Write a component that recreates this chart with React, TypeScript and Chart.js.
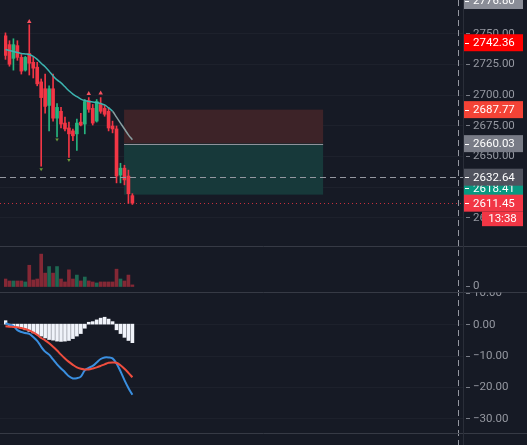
import React, { useEffect, useRef } from "react";
import { Chart, registerables } from "chart.js";

Chart.register(...registerables);

// ---------- DATA ----------
const opens = [2748, 2740.8, 2729.6, 2740, 2730.4, 2720, 2733.6, 2726.4, 2722.4, 2710.4, 2704.8, 2691.2, 2704.8, 2680.8, 2686.4, 2676.8, 2672.8, 2670.4, 2668, 2677.6, 2676, 2695.2, 2688.8, 2678.4, 2692, 2688.8, 2686.4, 2674.4, 2672, 2634.4, 2640, 2633.6, 2617.6];
const highs = [2750.4, 2744, 2745.6, 2744, 2732.8, 2731.2, 2757, 2730.4, 2726.4, 2712.8, 2716.8, 2707.2, 2716.8, 2692.8, 2689.6, 2681.6, 2677.6, 2672, 2680, 2684.8, 2696, 2697.6, 2692, 2696, 2697.6, 2691.2, 2689.6, 2678.4, 2674.4, 2644, 2642.4, 2638.4, 2619.2];
const lows = [2728.8, 2723.2, 2720, 2728, 2716.8, 2719.2, 2716, 2713.6, 2707.2, 2641.6, 2684.8, 2670.4, 2678.4, 2665.6, 2672.8, 2670.4, 2648.8, 2662.4, 2654.4, 2674.4, 2668, 2685.6, 2675.2, 2677.6, 2684.8, 2682.4, 2670.4, 2668.8, 2628, 2628, 2626.4, 2611.2, 2610.4];
const closes = [2732, 2724.8, 2740.8, 2730.4, 2719.2, 2730.4, 2725.6, 2721.6, 2708.8, 2697.6, 2690.4, 2704.8, 2680.8, 2689.6, 2676, 2672, 2668, 2666.4, 2676.8, 2675.2, 2694.4, 2688, 2676.8, 2694.4, 2686.4, 2684, 2672.8, 2672, 2633.6, 2640, 2630.4, 2619.2, 2611.45];
const maValues = [2736.8, 2736, 2735.2, 2734.4, 2733.6, 2733.2, 2732.8, 2731.2, 2728.8, 2725.6, 2722.8, 2719.2, 2715.2, 2712, 2709.6, 2706.4, 2703.2, 2700.4, 2698.4, 2696.4, 2695.2, 2694.4, 2694, 2693.6, 2692.8, 2691.6, 2689.2, 2686.4, 2681.6, 2676.8, 2672, 2667.2, 2663.2];
const volumes = [23, 17, 17, 17, 17, 14, 65, 20, 23, 99, 41, 61, 41, 61, 23, 14, 51, 23, 35, 17, 29, 17, 14, 11, 14, 14, 14, 14, 53, 23, 17, 35, 5];
const volumeUp = [false, false, true, false, false, true, false, false, false, false, false, true, false, true, false, false, false, false, true, false, true, false, false, true, false, false, false, false, false, true, false, false, false];
const macdLine = [0.3, -0.15, -0.6, -1.9, -2.5, -2.8, -3.1, -4.1, -5.3, -7.2, -8.75, -9.7, -11.25, -12.8, -14.1, -15.3, -16.6, -17.3, -17.2, -16.7, -14.7, -13.9, -13.3, -12.2, -11.1, -10.6, -10.6, -10.9, -12.5, -15, -17.8, -20.3, -22.5];
const signalLine = [-0.7, -0.8, -0.9, -1.0, -1.25, -1.55, -2.0, -2.65, -3.4, -4.4, -5.15, -6.1, -7.2, -8.4, -9.7, -10.9, -12.0, -12.95, -13.75, -14.2, -14.4, -14.4, -14.1, -13.75, -13.3, -12.8, -12.3, -12.2, -12.3, -13.1, -14.2, -15.5, -16.9];
const histogram = [1.1, -0.4, -0.5, -0.8, -1.25, -1.8, -2.3, -2.8, -3.3, -3.8, -4.4, -4.9, -5.1, -5.4, -5.5, -5.4, -5.2, -4.6, -3.8, -3.0, -1.3, 0.6, 0.8, 1.35, 1.9, 2.2, 1.6, 0.8, -1.8, -3.0, -4.2, -5.2, -5.9];
const highMarkIdx = [6, 21, 24];
const highMarkPrices = [2759.5, 2700.8, 2701.2];
const lowMarkIdx = [9, 13, 16];
const lowMarkPrices = [2639.2, 2663.4, 2646.6];

const priceTicks = [2750, 2725, 2700, 2675, 2650, 2625, 2600];
const macdTicks = [10, 0, -10, -20, -30];
const volumeTicks = [0];

const topCutPrice = 2776.8;
const highLabelPrice = 2742.36;
const stopPrice = 2687.77;
const entryPrice = 2660.03;
const crossPrice = 2632.64;
const targetPrice = 2618.41;
const lastPrice = 2611.45;
const countdownText = "13:38";
const positionStart = 29.9;
const positionEnd = 80.1;
const crossIndex = 114.1;

// ---------- LAYOUT / STYLE ----------
const W = 527, H = 445;
const AXIS_X = 463;
const PANE1_BOTTOM = 246.5;
const PANE2_BOTTOM = 292.5;
const PANE3_BOTTOM = 433.5;
const BG = "#161a25";
const UP = "#26b57f";
const DOWN = "#f23645";
const FONT = "11.5px Roboto, 'Liberation Sans', sans-serif";

const idx = opens.map((_, i) => i);

function hline(ctx: CanvasRenderingContext2D, x1: number, x2: number, y: number) {
  ctx.beginPath();
  ctx.moveTo(x1, y);
  ctx.lineTo(x2, y);
  ctx.stroke();
}

function fmt(v: number) {
  const s = Math.abs(v).toFixed(2);
  return v < 0 ? "\u2212" + s : s;
}

function labelBox(ctx: CanvasRenderingContext2D, cy: number, color: string, text: string) {
  ctx.fillStyle = color;
  ctx.fillRect(AXIS_X + 1, cy - 8.5, 59, 17);
  ctx.strokeStyle = "#ffffff";
  ctx.lineWidth = 1;
  hline(ctx, AXIS_X + 2, AXIS_X + 6, Math.round(cy) + 0.5);
  ctx.fillStyle = "#ffffff";
  ctx.font = FONT;
  ctx.textAlign = "left";
  ctx.textBaseline = "middle";
  ctx.fillText(text, 473, cy + 0.5);
}

const overlayPlugin = {
  id: "tvOverlay",
  beforeDraw(chart: any) {
    const { ctx } = chart;
    const ys = chart.scales.y;
    const ym = chart.scales.ym;
    ctx.save();
    ctx.fillStyle = BG;
    ctx.fillRect(0, 0, W, H);
    ctx.strokeStyle = "#1d212c";
    ctx.lineWidth = 1;
    priceTicks.forEach((t) => {
      const py = Math.round(ys.getPixelForValue(t)) + 0.5;
      if (py < PANE1_BOTTOM - 2) hline(ctx, 0, AXIS_X, py);
    });
    macdTicks.forEach((t) => {
      const py = Math.round(ym.getPixelForValue(t)) + 0.5;
      if (py > PANE2_BOTTOM + 2 && py < PANE3_BOTTOM - 2) hline(ctx, 0, AXIS_X, py);
    });
    ctx.restore();
  },
  beforeDatasetsDraw(chart: any) {
    const { ctx } = chart;
    const xs = chart.scales.x;
    const ys = chart.scales.y;
    const x1 = xs.getPixelForValue(positionStart);
    const x2 = xs.getPixelForValue(positionEnd);
    const yS = ys.getPixelForValue(stopPrice);
    const yE = ys.getPixelForValue(entryPrice);
    const yT = ys.getPixelForValue(targetPrice);
    ctx.save();
    ctx.fillStyle = "#3d2328";
    ctx.fillRect(x1, yS, x2 - x1, yE - yS);
    ctx.fillStyle = "#17393a";
    ctx.fillRect(x1, yE, x2 - x1, yT - yE);
    ctx.strokeStyle = "#8f929b";
    ctx.lineWidth = 1;
    hline(ctx, x1, x2, Math.round(yE) + 0.5);
    ctx.restore();
  },
  afterDatasetsDraw(chart: any) {
    const { ctx } = chart;
    const xs = chart.scales.x;
    const ys = chart.scales.y;
    const ym = chart.scales.ym;
    const yv = chart.scales.yv;
    ctx.save();

    // last price dotted line
    ctx.strokeStyle = "rgba(242,54,69,0.8)";
    ctx.lineWidth = 1;
    ctx.setLineDash([1, 3]);
    hline(ctx, 0, AXIS_X, Math.round(ys.getPixelForValue(lastPrice)) + 0.5);

    // crosshair
    ctx.strokeStyle = "#9598a1";
    ctx.setLineDash([6, 4]);
    hline(ctx, 0, AXIS_X, Math.round(ys.getPixelForValue(crossPrice)) + 0.5);
    const cx = Math.round(xs.getPixelForValue(crossIndex)) + 0.5;
    ctx.beginPath();
    ctx.moveTo(cx, 0);
    ctx.lineTo(cx, H);
    ctx.stroke();
    ctx.setLineDash([]);

    // separators
    ctx.strokeStyle = "#363a45";
    hline(ctx, 0, W, PANE1_BOTTOM);
    hline(ctx, 0, W, PANE2_BOTTOM);
    hline(ctx, 0, W, PANE3_BOTTOM);
    ctx.strokeStyle = "#2a2e39";
    ctx.beginPath();
    ctx.moveTo(AXIS_X + 0.5, 0);
    ctx.lineTo(AXIS_X + 0.5, H);
    ctx.stroke();

    // axis ticks
    ctx.font = FONT;
    ctx.textAlign = "left";
    ctx.textBaseline = "middle";
    const tick = (py: number, text: string) => {
      ctx.strokeStyle = "#7a7d87";
      hline(ctx, AXIS_X + 3, AXIS_X + 7, Math.round(py) + 0.5);
      ctx.fillStyle = "#9598a1";
      ctx.fillText(text, 473, py + 0.5);
    };
    ctx.save();
    ctx.beginPath();
    ctx.rect(AXIS_X + 1, 0, W - AXIS_X, PANE1_BOTTOM);
    ctx.clip();
    priceTicks.forEach((t) => tick(ys.getPixelForValue(t), t.toFixed(2)));
    ctx.restore();
    ctx.save();
    ctx.beginPath();
    ctx.rect(AXIS_X + 1, PANE2_BOTTOM, W - AXIS_X, PANE3_BOTTOM - PANE2_BOTTOM);
    ctx.clip();
    macdTicks.forEach((t) => tick(ym.getPixelForValue(t), fmt(t)));
    ctx.restore();
    volumeTicks.forEach((t) => tick(yv.getPixelForValue(t) - 1, String(t)));

    // price labels
    ctx.save();
    ctx.beginPath();
    ctx.rect(AXIS_X + 1, 0, W - AXIS_X, PANE1_BOTTOM);
    ctx.clip();
    labelBox(ctx, ys.getPixelForValue(topCutPrice), "#8a8d97", topCutPrice.toFixed(2));
    labelBox(ctx, ys.getPixelForValue(highLabelPrice), "#ff0000", highLabelPrice.toFixed(2));
    labelBox(ctx, ys.getPixelForValue(stopPrice), "#f44336", stopPrice.toFixed(2));
    labelBox(ctx, ys.getPixelForValue(entryPrice), "#787b86", entryPrice.toFixed(2));
    labelBox(ctx, ys.getPixelForValue(targetPrice) - 6.5, "#089981", targetPrice.toFixed(2));
    labelBox(ctx, ys.getPixelForValue(crossPrice), "#50535e", crossPrice.toFixed(2));
    const lp = ys.getPixelForValue(lastPrice);
    labelBox(ctx, lp, DOWN, lastPrice.toFixed(2));
    ctx.fillStyle = DOWN;
    ctx.fillRect(482, lp + 8.5, 41, 14.5);
    ctx.fillStyle = "#ffffff";
    ctx.textAlign = "center";
    ctx.fillText(countdownText, 502.5, lp + 16);
    ctx.restore();

    ctx.restore();
  },
};

export default function App() {
  const ref = useRef<HTMLCanvasElement>(null);
  useEffect(() => {
    const canvas = ref.current;
    if (!canvas) return;
    const candleColor = idx.map((i) => (closes[i] >= opens[i] ? UP : DOWN));
    const chart = new Chart(canvas, {
      type: "bar",
      data: {
        datasets: [
          {
            type: "bar",
            data: idx.map((i) => ({ x: i, y: [lows[i], highs[i]] })) as any,
            backgroundColor: candleColor,
            barThickness: 1,
            grouped: false,
            yAxisID: "y",
            order: 10,
          },
          {
            type: "bar",
            data: idx.map((i) => ({ x: i, y: [opens[i], closes[i]] })) as any,
            backgroundColor: candleColor,
            barThickness: 3,
            grouped: false,
            yAxisID: "y",
            order: 9,
          },
          {
            type: "bar",
            data: idx.map((i) => ({ x: i, y: volumes[i] })) as any,
            backgroundColor: idx.map((i) => (volumeUp[i] ? "rgba(38,181,127,0.5)" : "rgba(242,54,69,0.5)")),
            barThickness: 3,
            grouped: false,
            yAxisID: "yv",
            order: 8,
          },
          {
            type: "bar",
            data: idx.map((i) => ({ x: i, y: histogram[i] })) as any,
            backgroundColor: "#f0f3fa",
            barThickness: 3,
            grouped: false,
            yAxisID: "ym",
            order: 7,
          },
          {
            type: "line",
            data: idx.map((i) => ({ x: i, y: maValues[i] })) as any,
            borderColor: "#3cb4b0",
            borderWidth: 1.5,
            pointRadius: 0,
            tension: 0.35,
            yAxisID: "y",
            order: 4,
            segment: {
              borderColor: (c: any) => (c.p0DataIndex >= 27 ? "#8aa0a2" : "#3cb4b0"),
            },
          },
          {
            type: "line",
            data: idx.map((i) => ({ x: i, y: macdLine[i] })) as any,
            borderColor: "#3a8fe0",
            borderWidth: 2,
            pointRadius: 0,
            tension: 0.35,
            yAxisID: "ym",
            order: 3,
          },
          {
            type: "line",
            data: idx.map((i) => ({ x: i, y: signalLine[i] })) as any,
            borderColor: "#ef4d3e",
            borderWidth: 2,
            pointRadius: 0,
            tension: 0.35,
            yAxisID: "ym",
            order: 2,
          },
          {
            type: "scatter",
            data: highMarkIdx.map((v, k) => ({ x: v, y: highMarkPrices[k] })) as any,
            pointStyle: "triangle",
            pointRadius: 2.6,
            backgroundColor: "#f7525f",
            borderWidth: 0,
            yAxisID: "y",
            order: 1,
          },
          {
            type: "scatter",
            data: lowMarkIdx.map((v, k) => ({ x: v, y: lowMarkPrices[k] })) as any,
            pointStyle: "triangle",
            rotation: 180,
            pointRadius: 2,
            backgroundColor: "#6e9a3c",
            borderWidth: 0,
            yAxisID: "y",
            order: 1,
          },
        ],
      },
      options: {
        animation: false,
        responsive: false,
        events: [],
        layout: { padding: { left: 0, right: W - AXIS_X, top: 0, bottom: 0 } },
        plugins: { legend: { display: false }, tooltip: { enabled: false } },
        scales: {
          x: { type: "linear", min: -0.375, max: 115.375, display: false, offset: false },
          y: { type: "linear", min: 2417.39, max: 2773.96, display: false },
          yv: { type: "linear", min: -471.9, max: 863.1, display: false },
          ym: { type: "linear", min: -37.1875, max: 101.875, display: false },
        },
      } as any,
      plugins: [overlayPlugin as any],
    });
    return () => chart.destroy();
  }, []);
  return (
    <div style={{ position: "fixed", left: 0, top: 0, width: W, height: H, background: BG }}>
      <canvas ref={ref} width={W} height={H} style={{ display: "block", width: W, height: H }} />
    </div>
  );
}
